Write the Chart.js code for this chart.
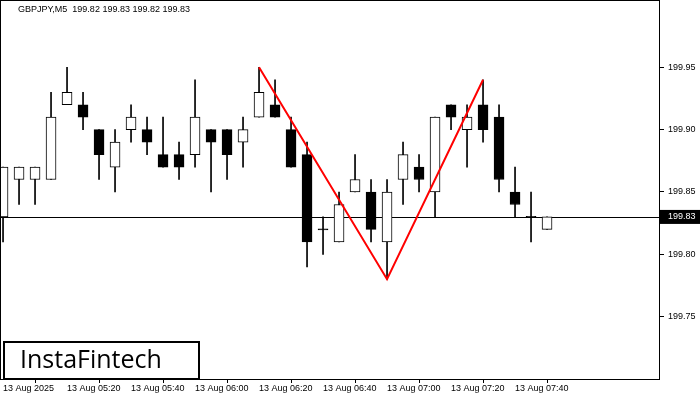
<!DOCTYPE html>
<html>
<head>
<meta charset="utf-8">
<script src="https://cdn.jsdelivr.net/npm/chart.js@4/dist/chart.umd.min.js"></script>
<style>
  html, body { margin: 0; padding: 0; background: #fff; }
  #wrap { width: 700px; height: 400px; position: relative; }
</style>
</head>
<body>
<div id="wrap"><canvas id="c"></canvas></div>
<script>
// candles, 5-minute bars starting 13 Aug 05:00
const opens  = [199.83,199.86,199.86,199.86,199.92,199.92,199.90,199.87,199.90,199.90,199.88,199.88,199.88,199.90,199.90,199.89,199.91,199.92,199.90,199.88,199.82,199.81,199.85,199.85,199.81,199.86,199.87,199.85,199.92,199.90,199.92,199.91,199.85,199.83,199.82];
const highs  = [199.87,199.87,199.87,199.93,199.95,199.93,199.90,199.90,199.92,199.91,199.91,199.89,199.94,199.90,199.90,199.91,199.95,199.94,199.91,199.89,199.83,199.85,199.88,199.86,199.86,199.89,199.88,199.91,199.92,199.92,199.94,199.92,199.87,199.85,199.83];
const lows   = [199.81,199.84,199.84,199.86,199.92,199.90,199.86,199.85,199.89,199.88,199.87,199.86,199.87,199.85,199.86,199.87,199.91,199.91,199.87,199.79,199.80,199.81,199.85,199.81,199.78,199.84,199.85,199.83,199.90,199.87,199.89,199.85,199.83,199.81,199.82];
const closes = [199.87,199.87,199.87,199.91,199.93,199.91,199.88,199.89,199.91,199.89,199.87,199.87,199.91,199.89,199.88,199.90,199.93,199.91,199.87,199.81,199.82,199.84,199.86,199.82,199.85,199.88,199.86,199.91,199.91,199.91,199.90,199.86,199.84,199.83,199.83];

const timeTicks = [0, 4, 8, 12, 16, 20, 24, 28, 32];
const timeLabels = ["13 Aug 2025","13 Aug 05:20","13 Aug 05:40","13 Aug 06:00","13 Aug 06:20","13 Aug 06:40","13 Aug 07:00","13 Aug 07:20","13 Aug 07:40"];
const priceTicks = [199.75, 199.80, 199.85, 199.90, 199.95];
const patternIdx = [16, 24, 30]; // double top: high, low, high
const currentPrice = 199.83;

const wicks = lows.map((l, i) => ({ x: i, y: [l, highs[i]] }));
const upBodies = [], downBodies = [];
opens.forEach((o, i) => {
  const c = closes[i];
  let lo = Math.min(o, c), hi = Math.max(o, c);
  if (hi - lo < 0.0001) {
    // doji: thin black dash
    downBodies.push({ x: i, y: [o - 0.0004, o + 0.0004] });
    return;
  }
  (c > o ? upBodies : downBodies).push({ x: i, y: [lo, hi] });
});
const pattern = patternIdx.map((i, k) => ({ x: i, y: k === 1 ? lows[i] : highs[i] }));

const font = { family: "'Liberation Sans', Arial, sans-serif", size: 9 };

const extras = {
  id: 'extras',
  beforeDatasetsDraw(chart) {
    const { ctx, chartArea: a, scales } = chart;
    const y = Math.round(scales.y.getPixelForValue(currentPrice)) + 0.5;
    ctx.save();
    ctx.strokeStyle = '#000'; ctx.lineWidth = 1;
    ctx.beginPath(); ctx.moveTo(a.left, y); ctx.lineTo(a.right, y); ctx.stroke();
    ctx.restore();
  },
  afterDraw(chart) {
    const { ctx, chartArea: a, scales } = chart;
    ctx.save();
    ctx.strokeStyle = '#000'; ctx.lineWidth = 1;
    ctx.strokeRect(a.left + 0.5, a.top + 0.5, a.right - a.left - 1, a.bottom - a.top);
    // price label
    const y = scales.y.getPixelForValue(currentPrice);
    ctx.fillStyle = '#000';
    ctx.fillRect(a.right, y - 7, 40, 14);
    ctx.fillStyle = '#fff';
    ctx.font = `9px ${font.family}`;
    ctx.textBaseline = 'middle';
    ctx.fillText(currentPrice.toFixed(2), a.right + 8, y);
    // title
    ctx.fillStyle = '#000';
    ctx.textBaseline = 'top';
    ctx.fillText('GBPJPY,M5  199.82 199.83 199.82 199.83', a.left + 18, a.top + 5);
    // logo
    ctx.fillStyle = '#fff';
    ctx.fillRect(a.left + 3, a.bottom - 38, 197, 38);
    ctx.lineWidth = 2;
    ctx.strokeRect(a.left + 4, a.bottom - 37, 195, 37);
    ctx.fillStyle = '#000';
    ctx.font = `25px 'Open Sans', sans-serif`;
    ctx.textBaseline = 'middle';
    ctx.fillText('InstaFintech', a.left + 20, a.bottom - 18);
    ctx.restore();
  }
};

new Chart(document.getElementById('c'), {
  data: {
    datasets: [
      { type: 'bar', data: wicks, backgroundColor: '#000', barThickness: 1, grouped: false, order: 3 },
      { type: 'bar', data: upBodies, backgroundColor: '#fff', borderColor: '#000', borderWidth: 1, borderSkipped: false, barThickness: 10, grouped: false, order: 2 },
      { type: 'bar', data: downBodies, backgroundColor: '#000', borderColor: '#000', borderWidth: 1, borderSkipped: false, barThickness: 10, grouped: false, order: 2 },
      { type: 'line', data: pattern, borderColor: '#ff0000', borderWidth: 2, pointRadius: 0, tension: 0, order: 1 }
    ]
  },
  options: {
    responsive: true,
    maintainAspectRatio: false,
    animation: false,
    layout: { padding: { top: 0, left: 0, right: 0, bottom: 0 } },
    plugins: { legend: { display: false }, tooltip: { enabled: false } },
    scales: {
      x: {
        type: 'linear', min: -0.19, max: 41.06, offset: false,
        grid: { drawOnChartArea: false, color: '#000', tickLength: 4 },
        border: { display: false },
        afterBuildTicks: s => { s.ticks = timeTicks.map(v => ({ value: v })); },
        ticks: {
          autoSkip: false, maxRotation: 0, color: '#000', font, padding: 0, align: 'start',
          callback: (v) => timeLabels[timeTicks.indexOf(v)]
        },
        afterFit: s => { s.height = 21; s.paddingLeft = 0; s.paddingRight = 0; }
      },
      y: {
        position: 'right', min: 199.700, max: 200.004,
        grid: { drawOnChartArea: false, color: '#000', tickLength: 4 },
        border: { display: false },
        afterBuildTicks: s => { s.ticks = priceTicks.map(v => ({ value: v })); },
        ticks: { color: '#000', font, padding: 4, callback: v => v.toFixed(2) },
        afterFit: s => { s.width = 40; s.paddingTop = 0; s.paddingBottom = 0; }
      }
    }
  },
  plugins: [extras]
});
</script>
</body>
</html>
